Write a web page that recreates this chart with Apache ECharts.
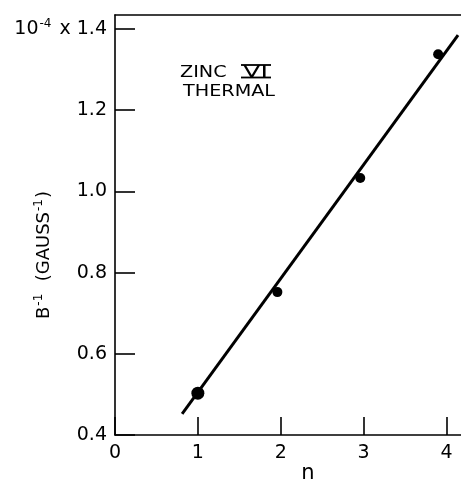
<!DOCTYPE html>
<html>
<head>
<meta charset="utf-8">
<script src="https://cdn.jsdelivr.net/npm/echarts@6/dist/echarts.min.js"></script>
<style>
  html, body { margin: 0; padding: 0; background: #fff; }
  #chart { width: 461px; height: 484px; }
</style>
</head>
<body>
<div id="chart"></div>
<script>
// Measured points: inverse field at each oscillation index n
const nValues = [1, 1.96, 2.96, 3.9];
const bInverse = [0.503, 0.752, 1.033, 1.338];
const pointSizes = [13, 10, 10, 10];

// Straight-line fit through the points (end points)
const fitN = [0.81, 4.14];
const fitB = [0.452, 1.385];

// Axis ticks
const xTicks = [0, 1, 2, 3, 4];
const yTicks = [0.4, 0.6, 0.8, 1.0, 1.2, 1.4];

const FONT = 'DejaVu Sans';
const chart = echarts.init(document.getElementById('chart'), null, { renderer: 'canvas' });

const yMin = 0.4, yMax = 1.4345;
const xMin = 0, xMax = 4.2;

const option = {
  backgroundColor: '#ffffff',
  animation: false,
  grid: { left: 115, top: 15, width: 348, height: 420, containLabel: false, outerBoundsMode: 'none' },
  xAxis: [
    {
      type: 'value', min: xMin, max: xMax, position: 'bottom',
      axisLine: { show: true, onZero: false, lineStyle: { color: '#000', width: 1.6 } },
      axisTick: { show: true, inside: true, length: 18, customValues: xTicks, lineStyle: { color: '#000', width: 1.6 } },
      axisLabel: { customValues: xTicks, margin: 9, color: '#000', fontFamily: FONT, fontSize: 19,
        formatter: v => String(Math.round(v)) },
      splitLine: { show: false },
      name: 'n', nameLocation: 'middle', nameGap: 28, nameMoveOverlap: false,
      nameTextStyle: { color: '#000', fontFamily: FONT, fontSize: 21, padding: [0, 0, 0, 38] }
    },
    {
      type: 'value', min: xMin, max: xMax, position: 'top',
      axisLine: { show: true, onZero: false, lineStyle: { color: '#000', width: 1.6 } },
      axisTick: { show: false }, axisLabel: { show: false }, splitLine: { show: false }
    }
  ],
  yAxis: {
    type: 'value', min: yMin, max: yMax,
    axisLine: { show: true, onZero: false, lineStyle: { color: '#000', width: 1.6 } },
    axisTick: { show: true, inside: true, length: 20, customValues: yTicks, lineStyle: { color: '#000', width: 1.6 } },
    axisLabel: {
      customValues: yTicks, margin: 8, color: '#000', fontFamily: FONT, fontSize: 19,
      formatter: v => Math.abs(v - 1.4) < 1e-6 ? '{b|10}{sup|-4}{b| x 1.4}' : v.toFixed(1),
      rich: {
        b: { fontFamily: FONT, fontSize: 19, color: '#000', lineHeight: 22 },
        sup: { fontFamily: FONT, fontSize: 12, color: '#000', verticalAlign: 'top', lineHeight: 22, padding: [0, 2, 8, 1] }
      }
    },
    splitLine: { show: false },
    name: '{b|B}{sup|-1}{b|  (GAUSS}{sup|-1}{b|)}',
    nameLocation: 'middle', nameGap: 60, nameRotate: 90, nameMoveOverlap: false,
    nameTextStyle: {
      color: '#000', padding: [0, 60, 0, 0],
      rich: {
        b: { fontFamily: FONT, fontSize: 18, color: '#000', lineHeight: 22 },
        sup: { fontFamily: FONT, fontSize: 12, color: '#000', verticalAlign: 'top', lineHeight: 22, padding: [0, 1, 8, 1] }
      }
    }
  },
  series: [
    {
      type: 'line', xAxisIndex: 0,
      data: fitN.map((n, i) => [n, fitB[i]]),
      showSymbol: false, symbol: 'none',
      lineStyle: { color: '#000', width: 3 }
    },
    {
      type: 'scatter', xAxisIndex: 0,
      data: nValues.map((n, i) => ({ value: [n, bInverse[i]], symbolSize: pointSizes[i] })),
      symbol: 'circle',
      itemStyle: { color: '#000', opacity: 1 }
    }
  ],
  graphic: [
    { type: 'text', left: 180, top: 65, scaleX: 1.2,
      style: { text: 'ZINC', font: '16px "DejaVu Sans"', fill: '#000' } },
    { type: 'text', left: 243, top: 65, scaleX: 1.6,
      style: { text: 'VI', font: '16px "DejaVu Sans"', fill: '#000' } },
    { type: 'line', shape: { x1: 241, y1: 65, x2: 271, y2: 65 }, style: { stroke: '#000', lineWidth: 1.8 } },
    { type: 'line', shape: { x1: 241, y1: 77.5, x2: 271, y2: 77.5 }, style: { stroke: '#000', lineWidth: 1.8 } },
    { type: 'text', left: 183, top: 84, scaleX: 1.2,
      style: { text: 'THERMAL', font: '16px "DejaVu Sans"', fill: '#000' } }
  ]
};

chart.setOption(option);
</script>
</body>
</html>
